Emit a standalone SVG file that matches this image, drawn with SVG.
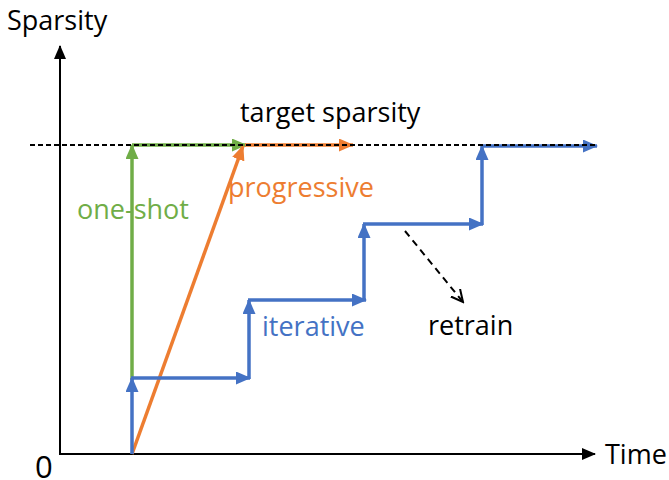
<svg xmlns="http://www.w3.org/2000/svg" width="669" height="480" viewBox="0 0 669 480">
<defs>
<style>
.t{font-family:"Open Sans","Liberation Sans",sans-serif;font-size:27px}
.ax{stroke:#000;stroke-width:2;fill:none}
.g{stroke:#70AD47;stroke-width:3.5;fill:none}
.o{stroke:#ED7D31;stroke-width:3.5;fill:none}
.b{stroke:#4472C4;stroke-width:3.5;fill:none}
</style>
<marker id="ak" markerUnits="userSpaceOnUse" markerWidth="14" markerHeight="12" refX="13" refY="6" orient="auto"><path d="M0,0 L14,6 L0,12 z" fill="#000"/></marker>
<marker id="ag" markerUnits="userSpaceOnUse" markerWidth="15" markerHeight="13" refX="14" refY="6.5" orient="auto"><path d="M0,0 L15,6.5 L0,13 z" fill="#70AD47"/></marker>
<marker id="ao" markerUnits="userSpaceOnUse" markerWidth="15" markerHeight="13" refX="14" refY="6.5" orient="auto"><path d="M0,0 L15,6.5 L0,13 z" fill="#ED7D31"/></marker>
<marker id="ab" markerUnits="userSpaceOnUse" markerWidth="15" markerHeight="13" refX="14" refY="6.5" orient="auto"><path d="M0,0 L15,6.5 L0,13 z" fill="#4472C4"/></marker>
<marker id="aopen" markerUnits="userSpaceOnUse" markerWidth="14" markerHeight="14" refX="12" refY="7" orient="auto"><path d="M0,1 L12,7 L0,13" fill="none" stroke="#000" stroke-width="2"/></marker>
</defs>
<g id="connectors">
<line class="ax" x1="60" y1="455" x2="60" y2="46" marker-end="url(#ak)"/>
<line class="ax" x1="59" y1="454" x2="595" y2="454" marker-end="url(#ak)"/>
<line class="g" x1="132" y1="380" x2="132" y2="145" marker-end="url(#ag)"/>
<line class="g" x1="132" y1="145" x2="246" y2="145" marker-end="url(#ag)"/>
<line class="o" x1="132" y1="454" x2="243" y2="146" marker-end="url(#ao)"/>
<line class="o" x1="245" y1="145" x2="353" y2="145" marker-end="url(#ao)"/>
<line class="b" x1="132" y1="454" x2="132" y2="378" marker-end="url(#ab)"/>
<line class="b" x1="131" y1="378" x2="250" y2="378" marker-end="url(#ab)"/>
<line class="b" x1="249" y1="379" x2="249" y2="300" marker-end="url(#ab)"/>
<line class="b" x1="248" y1="300" x2="366" y2="300" marker-end="url(#ab)"/>
<line class="b" x1="364" y1="301" x2="364" y2="224" marker-end="url(#ab)"/>
<line class="b" x1="363" y1="224" x2="483" y2="224" marker-end="url(#ab)"/>
<line class="b" x1="482" y1="225" x2="482" y2="146" marker-end="url(#ab)"/>
<line class="b" x1="481" y1="146" x2="597" y2="146" marker-end="url(#ab)"/>
<line x1="30" y1="145" x2="598" y2="145" stroke="#000" stroke-width="1.8" stroke-dasharray="5,3"/>
<line x1="405" y1="231" x2="463" y2="302" stroke="#000" stroke-width="2" stroke-dasharray="7,5" marker-end="url(#aopen)"/>
</g>
<g id="labels">
<text class="t" x="7" y="30">Sparsity</text>
<text class="t" x="605" y="464">Time</text>
<text class="t" x="35" y="478" style="font-size:31px">0</text>
<text class="t" x="240" y="122">target sparsity</text>
<text class="t" x="228" y="197" fill="#ED7D31">progressive</text>
<text class="t" x="77" y="219" fill="#70AD47">one-shot</text>
<text class="t" x="262" y="336" fill="#4472C4">iterative</text>
<text class="t" x="428" y="335">retrain</text>
</g>
</svg>
